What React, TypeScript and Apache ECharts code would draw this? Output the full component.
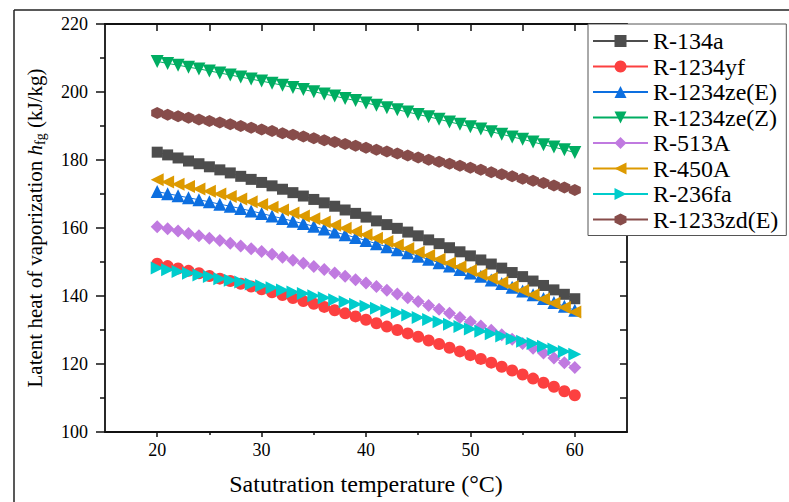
import React, { useEffect, useRef } from "react";
import * as echarts from "echarts";

const temperatures = [20, 21, 22, 23, 24, 25, 26, 27, 28, 29, 30, 31, 32, 33, 34, 35, 36, 37, 38, 39, 40, 41, 42, 43, 44, 45, 46, 47, 48, 49, 50, 51, 52, 53, 54, 55, 56, 57, 58, 59, 60];

const r134a = [182.3, 181.5, 180.6, 179.7, 178.9, 178.0, 177.1, 176.2, 175.2, 174.3, 173.4, 172.4, 171.4, 170.4, 169.4, 168.4, 167.4, 166.4, 165.3, 164.3, 163.2, 162.1, 161.0, 159.9, 158.8, 157.7, 156.5, 155.4, 154.2, 153.0, 151.8, 150.6, 149.4, 148.2, 146.9, 145.7, 144.4, 143.1, 141.8, 140.5, 139.2];
const r1234yf = [149.5, 148.8, 148.1, 147.4, 146.7, 145.9, 145.1, 144.4, 143.6, 142.8, 142.0, 141.1, 140.3, 139.4, 138.5, 137.7, 136.8, 135.8, 134.9, 134.0, 133.0, 132.0, 131.0, 130.0, 129.0, 128.0, 126.9, 125.9, 124.8, 123.7, 122.6, 121.5, 120.4, 119.2, 118.1, 116.9, 115.7, 114.5, 113.3, 112.0, 110.8];
const r1234zeE = [170.7, 170.1, 169.5, 168.9, 168.3, 167.7, 167.0, 166.4, 165.7, 165.0, 164.3, 163.5, 162.8, 162.0, 161.3, 160.5, 159.7, 158.8, 158.0, 157.2, 156.3, 155.4, 154.5, 153.6, 152.7, 151.7, 150.8, 149.8, 148.8, 147.8, 146.8, 145.8, 144.7, 143.7, 142.6, 141.5, 140.4, 139.3, 138.1, 137.0, 135.8];
const r1234zeZ = [209.0, 208.4, 207.9, 207.3, 206.8, 206.2, 205.6, 205.0, 204.4, 203.8, 203.2, 202.6, 202.0, 201.3, 200.7, 200.1, 199.4, 198.8, 198.1, 197.5, 196.8, 196.1, 195.4, 194.8, 194.1, 193.4, 192.7, 192.0, 191.2, 190.5, 189.8, 189.1, 188.3, 187.6, 186.8, 186.1, 185.3, 184.5, 183.8, 183.0, 182.2];
const r513A = [160.4, 159.8, 159.1, 158.4, 157.7, 157.0, 156.3, 155.5, 154.7, 153.9, 153.1, 152.3, 151.4, 150.5, 149.6, 148.7, 147.8, 146.8, 145.8, 144.8, 143.8, 142.8, 141.7, 140.6, 139.5, 138.4, 137.2, 136.1, 134.9, 133.7, 132.4, 131.2, 129.9, 128.6, 127.3, 126.0, 124.6, 123.2, 121.8, 120.4, 119.0];
const r450A = [174.2, 173.5, 172.9, 172.2, 171.5, 170.8, 170.0, 169.3, 168.5, 167.7, 166.9, 166.1, 165.3, 164.4, 163.5, 162.7, 161.8, 160.8, 159.9, 159.0, 158.0, 157.0, 156.0, 155.0, 154.0, 152.9, 151.9, 150.8, 149.7, 148.6, 147.5, 146.3, 145.2, 144.0, 142.8, 141.6, 140.4, 139.1, 137.9, 136.6, 135.3];
const r236fa = [148.2, 147.7, 147.2, 146.7, 146.2, 145.7, 145.1, 144.6, 144.1, 143.5, 143.0, 142.4, 141.8, 141.2, 140.7, 140.1, 139.5, 138.9, 138.3, 137.6, 137.0, 136.4, 135.7, 135.1, 134.4, 133.7, 133.1, 132.4, 131.7, 131.0, 130.3, 129.6, 128.9, 128.2, 127.4, 126.7, 126.0, 125.2, 124.4, 123.7, 122.9];
const r1233zdE = [193.8, 193.3, 192.9, 192.4, 191.9, 191.5, 191.0, 190.5, 190.0, 189.5, 189.0, 188.5, 187.9, 187.4, 186.9, 186.4, 185.8, 185.3, 184.7, 184.2, 183.6, 183.0, 182.5, 181.9, 181.3, 180.7, 180.1, 179.5, 178.9, 178.3, 177.7, 177.1, 176.4, 175.8, 175.2, 174.5, 173.9, 173.2, 172.5, 171.9, 171.2];

const seriesNames = ["R-134a", "R-1234yf", "R-1234ze(E)", "R-1234ze(Z)", "R-513A", "R-450A", "R-236fa", "R-1233zd(E)"];
const seriesValues = [r134a, r1234yf, r1234zeE, r1234zeZ, r513A, r450A, r236fa, r1233zdE];
const seriesColors = ["#4d4d4d", "#fc4040", "#0d6fe0", "#00ad62", "#c07ae0", "#dd9a00", "#00cccc", "#874c4a"];

const xLabelValues = [20, 30, 40, 50, 60];
const xMinorValues = [25, 35, 45, 55];
const xTopValues = [20, 25, 30, 35, 40, 45, 50, 55, 60];
const yLabelValues = [100, 120, 140, 160, 180, 200, 220];
const yMinorValues = [110, 130, 150, 170, 190, 210];
const yRightValues = [110, 120, 130, 140, 150, 160, 170, 180, 190, 200, 210];

const FONT = "'Liberation Serif', 'Times New Roman', serif";
const HEX = "path://M0,-10 L8.66,-5 L8.66,5 L0,10 L-8.66,5 L-8.66,-5 Z";
const symbols = ["rect", "circle", "triangle", "triangle", "diamond", "triangle", "triangle", HEX];
const rotations = [0, 0, 0, 180, 0, 90, -90, 0];
const sizes = [11, 12, 13, 13, 13, 13, 13, 12];

export default function App() {
  const ref = useRef<HTMLDivElement>(null);
  useEffect(() => {
    if (!ref.current) return;
    const chart = echarts.init(ref.current, null, { renderer: "svg" });
    const axisLine = { show: true, lineStyle: { color: "#111", width: 1.8 } };
    const series = seriesNames.map((name, i) => ({
      name,
      type: "line",
      xAxisIndex: 0,
      yAxisIndex: 0,
      data: temperatures.map((t, j) => [t, seriesValues[i][j]]),
      symbol: symbols[i],
      symbolRotate: rotations[i],
      symbolSize: sizes[i],
      showSymbol: true,
      lineStyle: { width: 1, color: seriesColors[i] },
      itemStyle: { color: seriesColors[i] },
      emphasis: { disabled: true },
    }));
    chart.setOption({
      animation: false,
      backgroundColor: "#fff",
      grid: { left: 105, right: 162, top: 24, bottom: 70, containLabel: false, outerBoundsMode: "none" },
      xAxis: [
        {
          type: "value", min: 15, max: 65, position: "bottom",
          axisLine,
          axisTick: { show: true, inside: false, length: 5, customValues: xLabelValues, lineStyle: { color: "#111", width: 1.5 } },
          axisLabel: { customValues: xLabelValues, fontFamily: FONT, fontSize: 18, color: "#000", margin: 9 },
          splitLine: { show: false },
          name: "Satutration temperature (\u00b0C)",
          nameLocation: "middle",
          nameGap: 40,
          nameTextStyle: { fontFamily: FONT, fontSize: 24, color: "#000" },
        },
        {
          type: "value", min: 15, max: 65, position: "bottom",
          axisLine: { show: false },
          axisTick: { show: true, inside: false, length: 3, customValues: xMinorValues, lineStyle: { color: "#111", width: 1.5 } },
          axisLabel: { show: false },
          splitLine: { show: false },
        },
        {
          type: "value", min: 15, max: 65, position: "top",
          axisLine,
          axisTick: { show: true, inside: true, length: 7, customValues: xTopValues, lineStyle: { color: "#111", width: 1.5 } },
          axisLabel: { show: false },
          splitLine: { show: false },
        },
      ],
      yAxis: [
        {
          type: "value", min: 100, max: 220, position: "left",
          axisLine,
          axisTick: { show: true, inside: false, length: 9, customValues: yLabelValues, lineStyle: { color: "#111", width: 1.5 } },
          axisLabel: { customValues: yLabelValues, fontFamily: FONT, fontSize: 18, color: "#000", margin: 17 },
          splitLine: { show: false },
          name: "{n|Latent heat of vaporization }{i|h}{s|fg}{n| (kJ/kg)}",
          nameLocation: "middle",
          nameGap: 58,
          nameRotate: 90,
          nameTextStyle: {
            fontFamily: FONT, fontSize: 21, color: "#000",
            rich: {
              n: { fontFamily: FONT, fontSize: 21, color: "#000", lineHeight: 24 },
              i: { fontFamily: FONT, fontSize: 21, fontStyle: "italic", color: "#000", lineHeight: 24 },
              s: { fontFamily: FONT, fontSize: 14, color: "#000", lineHeight: 24, padding: [10, 0, 0, 0] },
            },
          },
        },
        {
          type: "value", min: 100, max: 220, position: "left",
          axisLine: { show: false },
          axisTick: { show: true, inside: false, length: 5, customValues: yMinorValues, lineStyle: { color: "#111", width: 1.5 } },
          axisLabel: { show: false },
          splitLine: { show: false },
        },
        {
          type: "value", min: 100, max: 220, position: "right",
          axisLine,
          axisTick: { show: true, inside: true, length: 7, customValues: yRightValues, lineStyle: { color: "#111", width: 1.5 } },
          axisLabel: { show: false },
          splitLine: { show: false },
        },
      ],
      legend: {
        orient: "vertical",
        left: 588,
        top: 24,
        itemWidth: 55,
        itemHeight: 15,
        itemGap: 1.5,
        padding: [5, 8, 4, 4],
        backgroundColor: "#fff",
        borderColor: "#555",
        borderWidth: 1,
        borderRadius: 0,
        textStyle: { fontFamily: FONT, fontSize: 24, color: "#000" },
        z: 10,
        data: seriesNames,
      },
      graphic: [
        { type: "line", shape: { x1: 14, y1: 10, x2: 789, y2: 10 }, style: { stroke: "#222", lineWidth: 1.5 }, z: 20 },
        { type: "line", shape: { x1: 14, y1: 10, x2: 14, y2: 502 }, style: { stroke: "#222", lineWidth: 1.5 }, z: 20 },
      ],
      series,
    });
    return () => chart.dispose();
  }, []);
  return <div ref={ref} style={{ position: "fixed", left: 0, top: 0, width: 789, height: 502 }} />;
}
